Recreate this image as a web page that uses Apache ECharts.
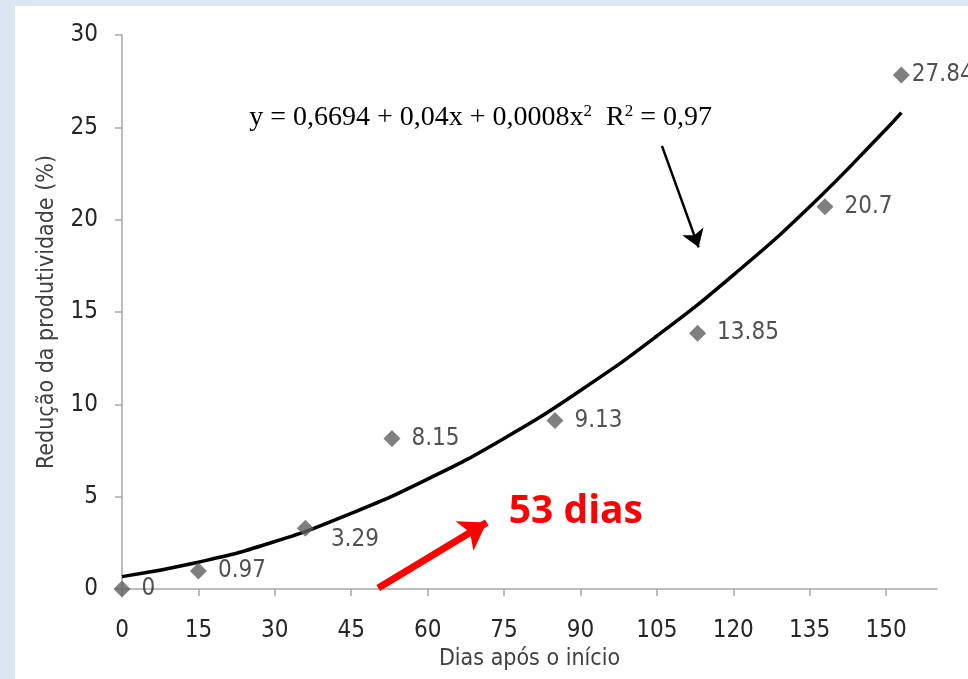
<!DOCTYPE html>
<html lang="pt">

<head>
    <meta charset="UTF-8">
    <title>Redução da produtividade</title>
    <script src="https://cdn.jsdelivr.net/npm/echarts@6/dist/echarts.min.js"></script>
    <style>
        body {
            margin: 0;
        }

        .frame {
            position: relative;
            width: 968px;
            height: 679px;
            background: #dce6f2;
            overflow: hidden;
        }

        .demo {
            position: absolute;
            left: 15px;
            top: 6px;
            width: 953px;
            height: 673px;
            background: #fff;
        }
    </style>
</head>

<body>
    <div class="frame">
        <div class="demo"></div>
    </div>
    <script>
        // pontos observados (dias, redução %)
        var dias = [0, 15, 36, 53, 85, 113, 138, 153]
        var reducao = [0, 0.97, 3.29, 8.15, 9.13, 13.85, 20.7, 27.84]
        // curva de tendência
        var trendX = [0, 15, 30, 45, 60, 75, 90, 105, 120, 135, 150, 153]
        var trendY = [0.67, 1.45, 2.57, 4.1, 5.95, 8.15, 10.75, 13.7, 17.0, 20.7, 24.9, 25.8]
        var xTicks = [0, 15, 30, 45, 60, 75, 90, 105, 120, 135, 150]
        var equacao = 'y = 0,6694 + 0,04x + 0,0008x{s|2}  R{s|2} = 0,97'
        var destaque = '53 dias'

        var font = "'Liberation Sans Narrow', 'DejaVu Sans Condensed', sans-serif"
        var chart = echarts.init(document.querySelector('.demo'))

        var pontos = dias.map(function (d, i) {
            var item = { value: [d, reducao[i]] }
            if (i == 2) item.label = { offset: [6, 12] }   // 3.29 fica abaixo
            if (i == dias.length - 1) item.label = { distance: 2 }
            return item
        })
        var tendencia = trendX.map(function (d, i) { return [d, trendY[i]] })

        var option = {
            animation: false,
            grid: { left: 107, top: 29, right: 31, bottom: 90 },
            xAxis: {
                type: 'value',
                min: 0,
                max: 160,
                interval: 15,
                name: 'Dias após o início',
                nameLocation: 'middle',
                nameGap: 58,
                nameTextStyle: { fontFamily: font, fontSize: 23, color: '#404040', verticalAlign: 'top' },
                splitLine: { show: false },
                axisLine: { lineStyle: { color: '#a6a6a6', width: 1.5 } },
                axisTick: { customValues: xTicks, length: 7, lineStyle: { color: '#a6a6a6', width: 1.5 } },
                axisLabel: { customValues: xTicks, margin: 30, fontFamily: font, fontSize: 24, color: '#262626' }
            },
            yAxis: {
                type: 'value',
                min: 0,
                max: 30,
                interval: 5,
                name: 'Redução da produtividade (%)',
                nameLocation: 'middle',
                nameGap: 63,
                nameTextStyle: { fontFamily: font, fontSize: 23, color: '#404040' },
                splitLine: { show: false },
                axisLine: { show: true, lineStyle: { color: '#a6a6a6', width: 1.5 } },
                axisTick: { show: true, length: 7, lineStyle: { color: '#a6a6a6', width: 1.5 } },
                axisLabel: { margin: 24, fontFamily: font, fontSize: 24, color: '#262626' }
            },
            series: [{
                type: 'line',
                data: tendencia,
                smooth: 0.5,
                symbol: 'none',
                lineStyle: { color: '#000', width: 3.5 },
                z: 3
            }, {
                // seta preta da equação
                type: 'line',
                data: [],
                markLine: {
                    silent: true,
                    symbol: ['none', 'arrow'],
                    symbolSize: 17,
                    label: { show: false },
                    itemStyle: { color: '#000' },
                    lineStyle: { color: '#000', width: 2.5, type: 'solid' },
                    data: [[{ coord: [106, 24.0] }, { coord: [113.2, 18.5] }]]
                }
            }, {
                // seta vermelha
                type: 'line',
                data: [],
                markLine: {
                    silent: true,
                    symbol: ['none', 'arrow'],
                    symbolSize: 26,
                    label: { show: false },
                    itemStyle: { color: '#ff0000' },
                    lineStyle: { color: '#ff0000', width: 7, type: 'solid' },
                    data: [[{ coord: [50.3, 0.05] }, { coord: [71.6, 3.6] }]]
                }
            }, {
                type: 'scatter',
                data: pontos,
                symbol: 'diamond',
                symbolSize: 17,
                itemStyle: { color: '#5f5f5f' },
                z: 4,
                label: {
                    show: true,
                    position: 'right',
                    distance: 11,
                    fontFamily: font,
                    fontSize: 24,
                    color: '#262626',
                    formatter: function (p) { return p.value[1] }
                }
            }]
        }

        chart.setOption(option)

        var eq = chart.convertToPixel({ gridIndex: 0 }, [70.4, 25.55])
        var red = chart.convertToPixel({ gridIndex: 0 }, [89.1, 4.17])
        chart.setOption({
            graphic: [{
                type: 'text',
                x: eq[0],
                y: eq[1],
                style: {
                    text: equacao,
                    font: "28px 'Liberation Serif', serif",
                    fill: '#000',
                    align: 'center',
                    verticalAlign: 'middle',
                    rich: {
                        s: { fontSize: 17, fontFamily: 'Liberation Serif', verticalAlign: 'top', padding: [0, 0, 12, 0] }
                    }
                }
            }, {
                type: 'text',
                x: red[0],
                y: red[1],
                style: {
                    text: destaque,
                    font: "bold 39px 'Open Sans', sans-serif",
                    fill: '#ff0000',
                    align: 'center',
                    verticalAlign: 'middle'
                }
            }]
        })
    </script>
</body>

</html>
